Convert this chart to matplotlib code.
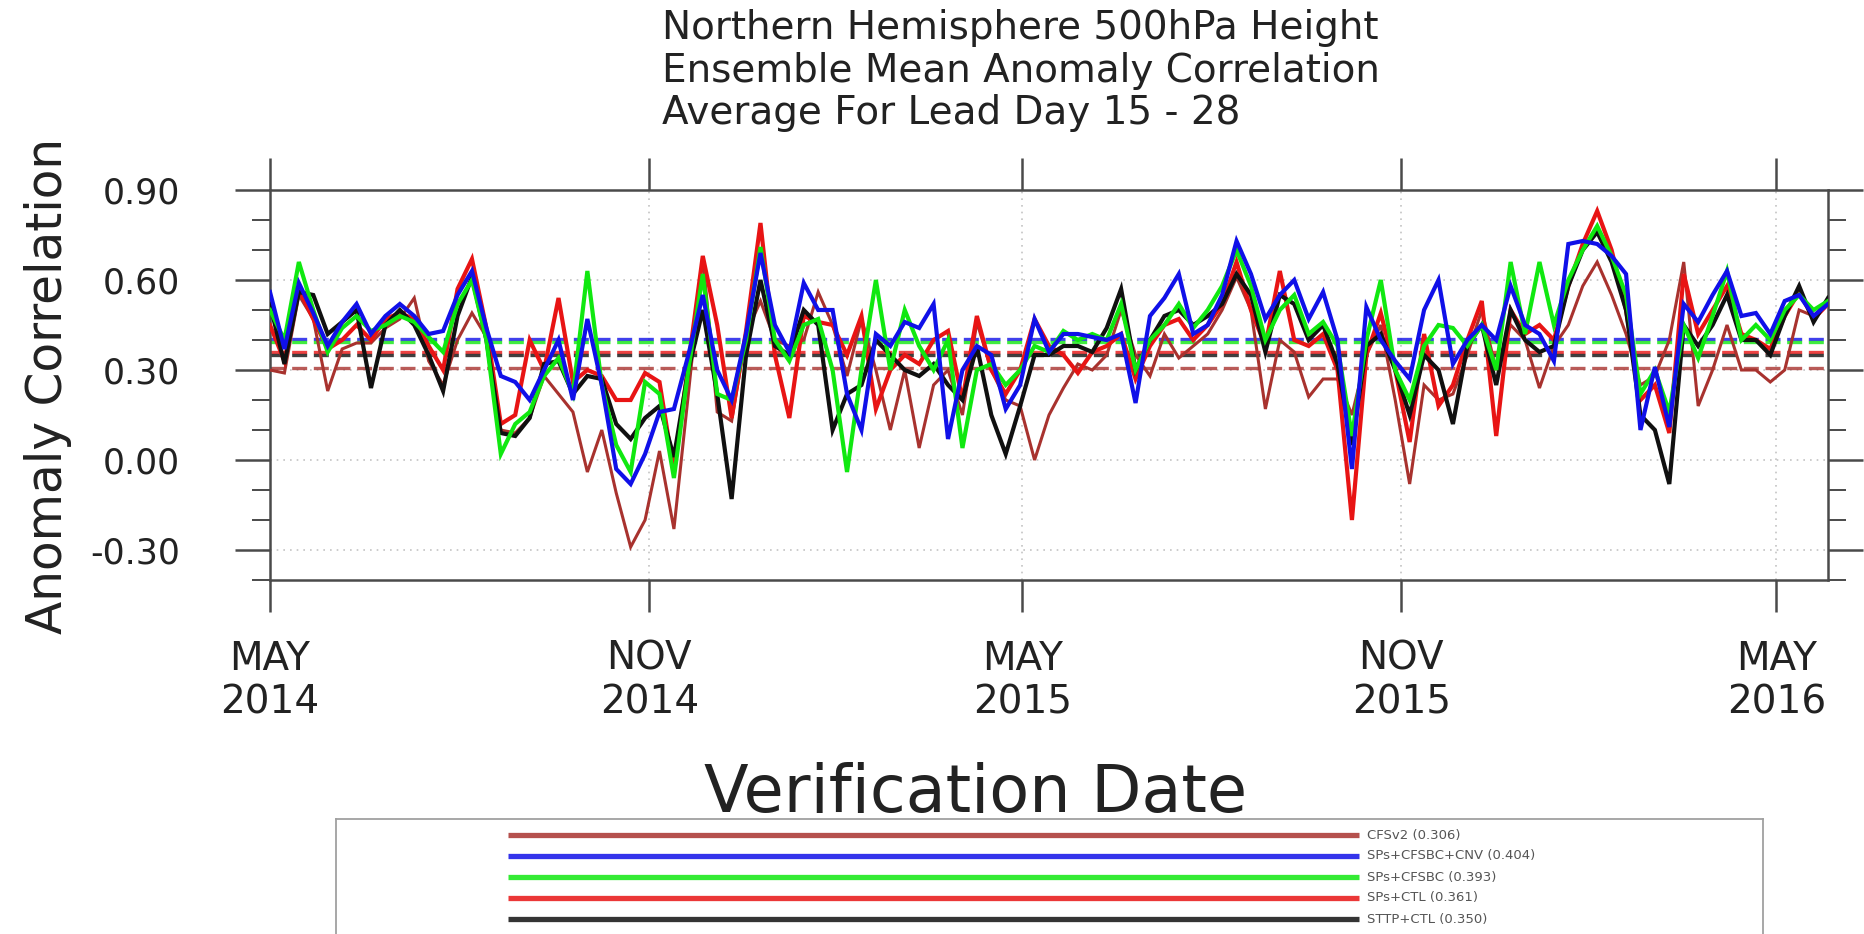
import matplotlib
matplotlib.use('Agg')
import matplotlib.pyplot as plt
import matplotlib.dates as mdates
import pandas as pd
from matplotlib.ticker import MultipleLocator, FixedLocator

# weekly verification dates, May 2014 - May 2016
dates = pd.date_range('2014-05-01', periods=109, freq='7D')

cfsv2 = [0.30, 0.29, 0.55, 0.47, 0.23, 0.37, 0.39, 0.39, 0.44, 0.47,
         0.54, 0.33, 0.25, 0.40, 0.49, 0.41, 0.10, 0.09, 0.14, 0.28,
         0.22, 0.16, -0.04, 0.10, -0.11, -0.29, -0.20, 0.03, -0.23, 0.22,
         0.68, 0.16, 0.13, 0.42, 0.53, 0.40, 0.38, 0.40, 0.56, 0.45,
         0.28, 0.47, 0.30, 0.10, 0.30, 0.04, 0.25, 0.30, 0.15, 0.46,
         0.30, 0.20, 0.18, 0.00, 0.15, 0.24, 0.32, 0.30, 0.35, 0.50,
         0.35, 0.28, 0.42, 0.34, 0.38, 0.42, 0.50, 0.61, 0.50, 0.17,
         0.40, 0.36, 0.21, 0.27, 0.27, 0.15, 0.35, 0.45, 0.20, -0.08,
         0.25, 0.20, 0.22, 0.35, 0.50, 0.30, 0.45, 0.40, 0.24, 0.38,
         0.45, 0.58, 0.66, 0.55, 0.42, 0.25, 0.28, 0.40, 0.66, 0.18,
         0.30, 0.45, 0.30, 0.30, 0.26, 0.30, 0.50, 0.48, 0.53]

cnv = [0.56, 0.37, 0.59, 0.49, 0.38, 0.46, 0.52, 0.42, 0.48, 0.52,
       0.48, 0.42, 0.43, 0.55, 0.63, 0.44, 0.28, 0.26, 0.20, 0.30,
       0.40, 0.20, 0.47, 0.25, -0.03, -0.08, 0.02, 0.16, 0.17, 0.35,
       0.55, 0.30, 0.20, 0.42, 0.69, 0.45, 0.36, 0.59, 0.50, 0.50,
       0.22, 0.10, 0.42, 0.38, 0.46, 0.44, 0.52, 0.07, 0.30, 0.38,
       0.35, 0.17, 0.25, 0.47, 0.36, 0.42, 0.42, 0.41, 0.40, 0.42,
       0.19, 0.48, 0.54, 0.62, 0.42, 0.45, 0.55, 0.73, 0.62, 0.47,
       0.55, 0.60, 0.47, 0.56, 0.40, -0.03, 0.51, 0.40, 0.33, 0.27,
       0.50, 0.60, 0.32, 0.40, 0.45, 0.40, 0.58, 0.45, 0.42, 0.33,
       0.72, 0.73, 0.72, 0.68, 0.62, 0.10, 0.31, 0.11, 0.52, 0.46,
       0.55, 0.63, 0.48, 0.49, 0.42, 0.53, 0.55, 0.48, 0.52]

cfsbc = [0.50, 0.40, 0.66, 0.50, 0.36, 0.44, 0.48, 0.43, 0.45, 0.48,
         0.46, 0.41, 0.36, 0.52, 0.60, 0.40, 0.02, 0.12, 0.16, 0.28,
         0.34, 0.22, 0.63, 0.25, 0.05, -0.04, 0.26, 0.22, -0.06, 0.30,
         0.62, 0.22, 0.20, 0.40, 0.71, 0.40, 0.33, 0.45, 0.47, 0.30,
         -0.04, 0.30, 0.60, 0.30, 0.50, 0.38, 0.30, 0.40, 0.04, 0.30,
         0.32, 0.25, 0.30, 0.38, 0.36, 0.43, 0.40, 0.42, 0.40, 0.52,
         0.30, 0.40, 0.45, 0.52, 0.44, 0.50, 0.58, 0.70, 0.58, 0.40,
         0.50, 0.55, 0.42, 0.46, 0.38, 0.08, 0.40, 0.60, 0.30, 0.20,
         0.38, 0.45, 0.44, 0.38, 0.45, 0.30, 0.66, 0.42, 0.66, 0.45,
         0.60, 0.70, 0.78, 0.68, 0.55, 0.22, 0.30, 0.16, 0.45, 0.34,
         0.48, 0.63, 0.40, 0.45, 0.40, 0.50, 0.55, 0.50, 0.53]

ctl = [0.45, 0.33, 0.57, 0.47, 0.37, 0.40, 0.45, 0.40, 0.47, 0.49,
       0.47, 0.38, 0.30, 0.57, 0.67, 0.44, 0.12, 0.15, 0.40, 0.30,
       0.54, 0.26, 0.30, 0.28, 0.20, 0.20, 0.29, 0.26, -0.04, 0.32,
       0.68, 0.45, 0.14, 0.43, 0.79, 0.35, 0.14, 0.48, 0.46, 0.45,
       0.35, 0.48, 0.17, 0.30, 0.35, 0.32, 0.40, 0.43, 0.20, 0.48,
       0.30, 0.22, 0.30, 0.47, 0.38, 0.35, 0.29, 0.36, 0.38, 0.42,
       0.27, 0.38, 0.45, 0.47, 0.40, 0.45, 0.52, 0.66, 0.50, 0.38,
       0.63, 0.40, 0.38, 0.42, 0.30, -0.20, 0.35, 0.49, 0.30, 0.06,
       0.42, 0.18, 0.25, 0.40, 0.53, 0.08, 0.50, 0.42, 0.45, 0.40,
       0.58, 0.72, 0.83, 0.70, 0.50, 0.20, 0.25, 0.09, 0.62, 0.42,
       0.50, 0.58, 0.42, 0.40, 0.37, 0.48, 0.56, 0.47, 0.52]

sttp = [0.52, 0.32, 0.56, 0.55, 0.42, 0.46, 0.50, 0.24, 0.45, 0.50,
        0.45, 0.35, 0.23, 0.48, 0.61, 0.40, 0.09, 0.08, 0.14, 0.32,
        0.33, 0.22, 0.28, 0.27, 0.12, 0.07, 0.14, 0.18, 0.01, 0.30,
        0.50, 0.22, -0.13, 0.35, 0.60, 0.38, 0.35, 0.50, 0.45, 0.10,
        0.22, 0.25, 0.40, 0.35, 0.30, 0.28, 0.32, 0.25, 0.20, 0.38,
        0.15, 0.02, 0.18, 0.35, 0.35, 0.38, 0.38, 0.36, 0.44, 0.57,
        0.30, 0.40, 0.48, 0.50, 0.45, 0.48, 0.52, 0.62, 0.55, 0.36,
        0.55, 0.52, 0.40, 0.45, 0.32, 0.05, 0.38, 0.42, 0.30, 0.15,
        0.35, 0.30, 0.12, 0.38, 0.45, 0.25, 0.50, 0.40, 0.36, 0.38,
        0.58, 0.70, 0.76, 0.66, 0.50, 0.15, 0.10, -0.08, 0.45, 0.38,
        0.45, 0.55, 0.40, 0.40, 0.35, 0.48, 0.58, 0.46, 0.54]

names = ['CFSv2', 'SPs+CFSBC+CNV', 'SPs+CFSBC', 'SPs+CTL', 'STTP+CTL']
means = [0.306, 0.404, 0.393, 0.361, 0.350]
series = [cfsv2, cnv, cfsbc, ctl, sttp]
colors = ['#a8322e', '#1010e8', '#10e810', '#e81414', '#101010']
widths = [2.2, 3.0, 3.0, 3.0, 3.0]

tick_dates = pd.to_datetime(['2014-05-01', '2014-11-01', '2015-05-01',
                             '2015-11-01', '2016-05-01'])
tick_labels = ['MAY\n2014', 'NOV\n2014', 'MAY\n2015', 'NOV\n2015', 'MAY\n2016']

W, H = 1864, 934
fig = plt.figure(figsize=(W / 100, H / 100), dpi=100)
ax = fig.add_axes([270 / W, 1 - 580 / H, (1828 - 270) / W, (580 - 190) / H])

# mean lines first, then the series over them
for m, c in zip(means, colors):
    ax.axhline(m, color=c, lw=2.4, ls=(0, (4.5, 2.0)), alpha=0.8, zorder=2)

draw_order = [0, 3, 4, 2, 1]
for i in draw_order:
    ax.plot(dates, series[i], color=colors[i], lw=widths[i], zorder=3,
            solid_joinstyle='miter')

ax.set_xlim(dates[0], dates[-1])
ax.set_ylim(-0.4, 0.9)
ax.xaxis.set_major_locator(FixedLocator(mdates.date2num(tick_dates)))
ax.set_xticklabels(tick_labels)
ax.set_yticks([-0.3, 0.0, 0.3, 0.6, 0.9])
ax.set_yticklabels(['%.2f' % v for v in [-0.3, 0.0, 0.3, 0.6, 0.9]])
ax.yaxis.set_minor_locator(MultipleLocator(0.1))

ax.grid(True, which='major', color='#c4c4c4', lw=1.2, ls=(0, (1, 3)), zorder=1)
ax.tick_params(which='both', direction='out', top=True, right=True,
               color='#4a4a4a', labelcolor='#222222')
ax.tick_params(axis='y', which='major', length=25, width=1.8, pad=40, labelsize=25)
ax.tick_params(axis='y', which='minor', length=13, width=1.4)
ax.tick_params(axis='x', which='major', length=23, width=1.8, pad=20, labelsize=28)
for s in ax.spines.values():
    s.set_color('#4a4a4a')
    s.set_linewidth(1.8)

# titles and axis labels
title_lines = ['Northern Hemisphere 500hPa Height',
               'Ensemble Mean Anomaly Correlation',
               'Average For Lead Day 15 - 28']
for line, base in zip(title_lines, [39, 82, 124]):
    fig.text(662 / W, 1 - base / H, line, fontsize=28, color='#222222',
             ha='left', va='baseline')
fig.text(48 / W, 1 - 386 / H, 'Anomaly Correlation', fontsize=35,
         rotation=90, ha='center', va='center', color='#222222')
fig.text(976 / W, 1 - 794 / H, 'Verification Date', fontsize=47,
         ha='center', va='center', color='#222222')

# legend box at the bottom
lax = fig.add_axes([336 / W, 0, (1763 - 336) / W, (934 - 819) / H])
lax.set_xlim(336, 1763)
lax.set_ylim(934, 819)
lax.set_xticks([])
lax.set_yticks([])
for side in ['top', 'left', 'right']:
    lax.spines[side].set_color('#a0a0a0')
    lax.spines[side].set_linewidth(1.3)
lax.spines['bottom'].set_visible(False)
for j, (nm, m, c) in enumerate(zip(names, means, colors)):
    y = 835 + 21 * j
    lax.plot([508, 1359], [y, y], color=c, lw=3.8, solid_capstyle='butt', alpha=0.85)
    lax.text(1367, y, '%s (%.3f)' % (nm, m), fontsize=9.5, color='#555555',
             ha='left', va='center')

fig.savefig('out.png', dpi=100)
